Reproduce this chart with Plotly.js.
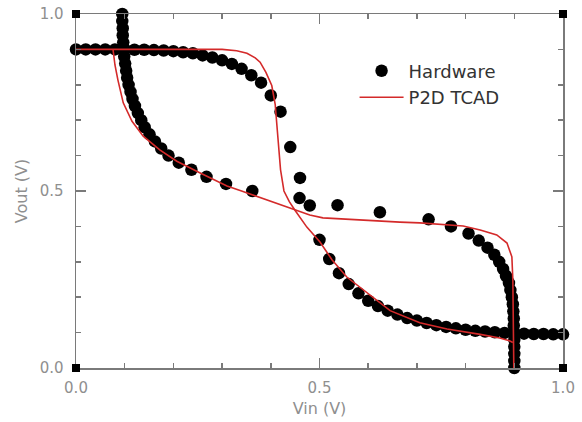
<!DOCTYPE html>
<html>
<head>
<meta charset="utf-8">
<script src="https://cdn.plot.ly/plotly-3.0.1.min.js"></script>
<style>html,body{margin:0;padding:0;background:#fff;}#chart{width:582px;height:422px;}</style>
</head>
<body>
<div id="chart"></div>
<script>
// Hardware measured inverter transfer curve (Vin -> Vout), plotted as a butterfly (curve and its mirror)
const hwVin = [0.00,0.02,0.04,0.06,0.08,0.10,0.12,0.14,0.16,0.18,0.20,0.22,0.24,0.26,0.28,0.30,0.32,0.34,0.36,0.38,0.40,0.42,0.44,0.46,0.48,0.50,0.52,0.54,0.56,0.58,0.60,0.62,0.64,0.66,0.68,0.70,0.72,0.74,0.76,0.78,0.80,0.82,0.84,0.86,0.88,0.90,0.92,0.94,0.96,0.98,1.00];
const hwVout = [0.900,0.900,0.900,0.900,0.900,0.900,0.899,0.899,0.898,0.897,0.895,0.892,0.889,0.883,0.877,0.869,0.859,0.845,0.827,0.806,0.770,0.724,0.624,0.537,0.459,0.362,0.308,0.268,0.237,0.211,0.190,0.175,0.162,0.151,0.141,0.134,0.127,0.121,0.116,0.112,0.108,0.105,0.103,0.101,0.099,0.098,0.097,0.096,0.096,0.095,0.095];

// P2D TCAD simulated curves
const tcadFwdVin  = [0.000,0.100,0.200,0.300,0.330,0.351,0.368,0.378,0.390,0.402,0.409,0.415,0.420,0.427,0.438,0.450,0.474,0.501,0.526,0.556,0.598,0.645,0.706,0.762,0.830,0.870,0.890,0.897];
const tcadFwdVout = [0.900,0.900,0.901,0.900,0.896,0.889,0.876,0.864,0.835,0.798,0.745,0.640,0.560,0.500,0.470,0.445,0.398,0.356,0.305,0.257,0.212,0.162,0.128,0.110,0.095,0.085,0.077,0.072];
const tcadRevVout = [0.076,0.078,0.080,0.086,0.097,0.115,0.138,0.172,0.207,0.255,0.310,0.340,0.372,0.446,0.480,0.507,0.577,0.665,0.706,0.795,0.830,0.864,0.885,0.895,0.897,0.898,0.899];
const tcadRevVin  = [0.900,0.880,0.856,0.814,0.749,0.697,0.655,0.616,0.584,0.551,0.514,0.500,0.484,0.447,0.432,0.424,0.418,0.412,0.410,0.401,0.390,0.376,0.353,0.314,0.249,0.150,0.000];

const seriesNames = ['Hardware', 'P2D TCAD'];
const xTickVals = [0, 0.5, 1.0];
const yTickVals = [0, 0.5, 1.0];

const hwTrace = {
  x: hwVin.concat(hwVout),
  y: hwVout.concat(hwVin),
  mode: 'markers',
  type: 'scatter',
  name: seriesNames[0],
  marker: {color: '#000000', size: 12.5},
  cliponaxis: false
};
const tcadTrace = {
  x: tcadFwdVin.concat([null], tcadRevVout),
  y: tcadFwdVout.concat([null], tcadRevVin),
  mode: 'lines',
  type: 'scatter',
  name: seriesNames[1],
  connectgaps: false,
  line: {color: '#d42a2a', width: 1.6},
  cliponaxis: false
};

function cornerSquare(xa, ya) {
  return {type: 'rect', xref: 'x domain', yref: 'y domain', xsizemode: 'pixel', ysizemode: 'pixel',
    xanchor: xa, yanchor: ya, x0: -4, x1: 4, y0: -4, y1: 4,
    fillcolor: '#000000', line: {width: 0}, layer: 'above'};
}

const axisCommon = {
  range: [0, 1],
  showgrid: false,
  zeroline: false,
  showline: true,
  linecolor: '#7a7a7a',
  linewidth: 1.5,
  mirror: 'allticks',
  ticks: 'inside',
  ticklen: 10,
  tickwidth: 1.5,
  tickcolor: '#7a7a7a',
  tickformat: '.1f',
  tickmode: 'array',
  tickfont: {family: 'DejaVu Sans', size: 15, color: '#8f8f8f'},
  minor: {ticks: 'inside', dtick: 0.1, ticklen: 5, tickwidth: 1.5, tickcolor: '#7a7a7a', showgrid: false},
  fixedrange: true
};

const layout = {
  width: 582,
  height: 422,
  margin: {l: 76, r: 19, t: 14, b: 54},
  paper_bgcolor: '#ffffff',
  plot_bgcolor: '#ffffff',
  showlegend: true,
  legend: {
    x: 0.572, y: 0.891, xanchor: 'left', yanchor: 'top',
    font: {family: 'DejaVu Sans', size: 18, color: '#333333'},
    bgcolor: 'rgba(0,0,0,0)', borderwidth: 0, itemwidth: 44, tracegroupgap: 0
  },
  xaxis: Object.assign({}, axisCommon, {
    tickvals: xTickVals,
    ticklabelstandoff: 5,
    title: {text: 'Vin (V)', font: {family: 'DejaVu Sans', size: 16, color: '#8f8f8f'}, standoff: 7}
  }),
  yaxis: Object.assign({}, axisCommon, {
    tickvals: yTickVals,
    ticklabelstandoff: 8,
    title: {text: 'Vout (V)', font: {family: 'DejaVu Sans', size: 16, color: '#8f8f8f'}, standoff: 8}
  }),
  shapes: [cornerSquare(0, 0), cornerSquare(1, 0), cornerSquare(0, 1), cornerSquare(1, 1)]
};

Plotly.newPlot('chart', [hwTrace, tcadTrace], layout, {displayModeBar: false, staticPlot: true});
</script>
</body>
</html>
